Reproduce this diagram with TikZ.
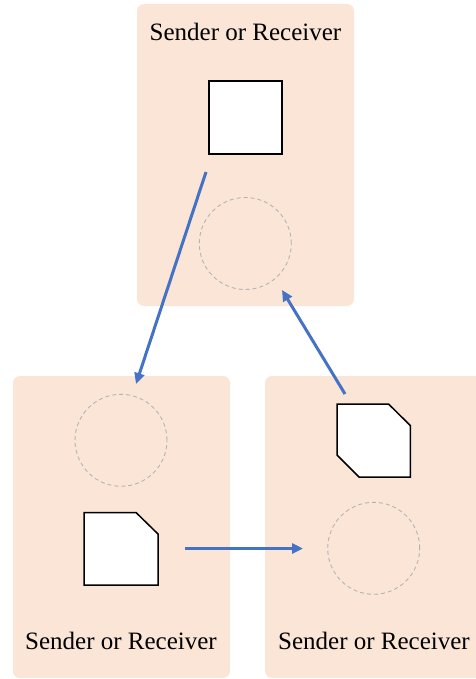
\documentclass[tikz,border=0pt]{standalone}
\usepackage{fontspec}
\setmainfont{Liberation Serif}
\usetikzlibrary{arrows.meta}
\definecolor{panelfill}{HTML}{FBE5D6}
\definecolor{arrowblue}{HTML}{4472C4}
\definecolor{dashgray}{HTML}{B4B4B4}
\tikzset{
  panel/.style={rounded corners=7pt, fill=panelfill, draw=none, minimum width=217pt, minimum height=302pt, inner sep=0pt},
  slot/.style={circle, draw=dashgray, line width=0.9pt, dash pattern=on 4pt off 3pt, minimum size=92pt, inner sep=0pt},
  token/.style={draw=black, fill=white, line width=1.5pt, line join=miter},
  label/.style={anchor=base, inner sep=0pt, font=\fontsize{25}{30}\selectfont},
  flow/.style={draw=arrowblue, line width=3pt, -{Triangle[length=11pt,width=10pt]}}
}
\begin{document}
\begin{tikzpicture}[x=1pt,y=-1pt]
\useasboundingbox (0,0) rectangle (475,679);
% panels
\node[panel] (top) at (245.5,155) {};
\node[panel] (left) at (121.5,527) {};
\node[panel] (right) at (373.5,527) {};
% labels
\node[label] (toplabel) at (245.5,41) {Sender or Receiver};
\node[label] (leftlabel) at (121,649) {Sender or Receiver};
\node[label] (rightlabel) at (374,649) {Sender or Receiver};
% slots
\node[slot] (topslot) at (245.3,243.5) {};
\node[slot] (leftslot) at (121,440.3) {};
\node[slot] (rightslot) at (373.7,548.3) {};
% tokens
\node[token, minimum size=73pt, inner sep=0pt] (square) at (245.5,117.5) {};
\draw[token] (84,512.5) -- (136,512.5) -- (158,534) -- (158,585) -- (84,585) -- cycle;
\draw[token] (337,404) -- (388.5,404) -- (410.3,425.5) -- (410.3,477) -- (359,477) -- (337,455) -- cycle;
% connector ends
\coordinate (a1s) at (206,172);
\coordinate (a1e) at (136,384);
\coordinate (a2s) at (185,548.5);
\coordinate (a2e) at (303,548.5);
\coordinate (a3s) at (345,394);
\coordinate (a3e) at (282,290);
\draw[flow] (a1s) -- (a1e);
\draw[flow] (a2s) -- (a2e);
\draw[flow] (a3s) -- (a3e);
\end{tikzpicture}
\end{document}
